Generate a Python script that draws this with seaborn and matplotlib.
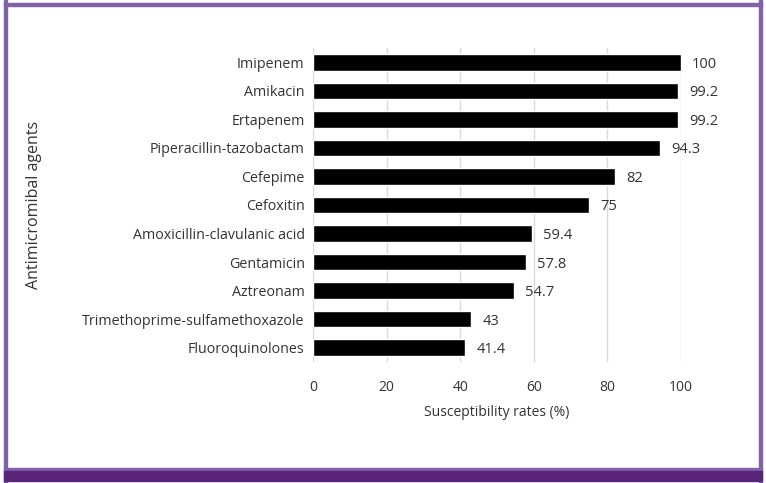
import matplotlib
matplotlib.use('Agg')
import matplotlib.pyplot as plt
import seaborn as sns
import pandas as pd
from matplotlib.patches import Rectangle

agents = ['Imipenem', 'Amikacin', 'Ertapenem', 'Piperacillin-tazobactam', 'Cefepime',
          'Cefoxitin', 'Amoxicillin-clavulanic acid', 'Gentamicin', 'Aztreonam',
          'Trimethoprime-sulfamethoxazole', 'Fluoroquinolones']
rates = [100, 99.2, 99.2, 94.3, 82, 75, 59.4, 57.8, 54.7, 43, 41.4]
rate_labels = ['100', '99.2', '99.2', '94.3', '82', '75', '59.4', '57.8', '54.7', '43', '41.4']
xticks = [0, 20, 40, 60, 80, 100]

df = pd.DataFrame({'agent': agents, 'rate': rates})

sns.set_style('white')
plt.rcParams['font.family'] = ['Open Sans', 'DejaVu Sans']
txt = '#333333'

W, H = 766, 483
fig = plt.figure(figsize=(W / 100, H / 100), dpi=100)
ax = fig.add_axes([313 / W, 1 - 362 / H, (681 - 313) / W, (362 - 48) / H])

sns.barplot(data=df, x='rate', y='agent', orient='h', color='black',
            width=0.58, saturation=1, ax=ax)

ax.set_xlim(0, 100)
ax.set_ylim(len(agents) - 0.5, -0.5)
ax.set_xticks(xticks)
ax.set_xticklabels([str(t) for t in xticks])
ax.grid(axis='x', color='#d9d9d9', linewidth=1)
ax.set_axisbelow(True)
for s in ax.spines.values():
    s.set_visible(False)
ax.tick_params(axis='both', length=0, labelsize=10, colors=txt)
ax.tick_params(axis='y', pad=6, labelsize=10.3)
ax.tick_params(axis='x', pad=13)

# value labels to the right of each bar
for i, (v, lab) in enumerate(zip(rates, rate_labels)):
    ax.annotate(lab, (v, i), xytext=(11, -2), textcoords='offset pixels',
                va='center', ha='left', fontsize=10.5, color=txt)

ax.set_xlabel('Susceptibility rates (%)', fontsize=10, color=txt, labelpad=7)
ax.set_ylabel('Antimicromibal agents', fontsize=11.5, color=txt, labelpad=29)

# purple frame
border = '#8062a8'
fig.add_artist(Rectangle((4 / W, 0), 3 / W, 1, transform=fig.transFigure, color=border, zorder=0))
fig.add_artist(Rectangle((759 / W, 0), 3 / W, 1, transform=fig.transFigure, color=border, zorder=0))
fig.add_artist(Rectangle((4 / W, 1 - 6 / H), 758 / W, 3 / H, transform=fig.transFigure, color=border, zorder=0))
fig.add_artist(Rectangle((4 / W, 1 - 471 / H), 758 / W, 3 / H, transform=fig.transFigure, color=border, zorder=0))
fig.add_artist(Rectangle((4 / W, 1 - 481 / H), 758 / W, 10 / H, transform=fig.transFigure, color='#5a2479', zorder=0))

fig.savefig('out.png', dpi=100)
